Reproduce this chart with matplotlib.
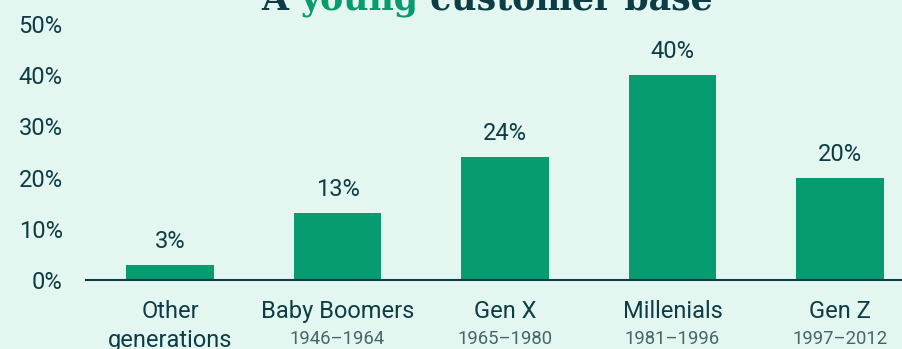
import matplotlib
matplotlib.use("Agg")
import matplotlib.pyplot as plt

# data
categories = ["Other\ngenerations", "Baby Boomers", "Gen X", "Millenials", "Gen Z"]
years = ["", "1946–1964", "1965–1980", "1981–1996", "1997–2012"]
shares = [3, 13, 24, 40, 20]
yticks = [0, 10, 20, 30, 40, 50]

BG = "#e4f6f0"
GREEN = "#069c6f"
DARK = "#0c3d46"
MUTED = "#46666b"

plt.rcParams["font.family"] = ["Roboto", "DejaVu Sans"]

fig = plt.figure(figsize=(9.02, 3.49), dpi=100)
fig.patch.set_facecolor(BG)

W, H = 902, 349
ax = fig.add_axes([86.25 / W, 69 / H, 837.5 / W, 256 / H])
ax.set_facecolor(BG)

x = list(range(len(categories)))
ax.bar(x, shares, width=0.525, color=GREEN, zorder=2)

# value labels above bars
for xi, v in zip(x, shares):
    ax.annotate(f"{v}%", (xi, v), xytext=(0, 17), textcoords="offset pixels",
                ha="center", va="baseline", fontsize=17, color=DARK)

ax.set_xlim(-0.5, 4.5)
ax.set_ylim(0, 50)
ax.set_yticks(yticks)
ax.set_yticklabels([f"{t}%" for t in yticks], fontsize=17, color=DARK)
ax.tick_params(axis="y", length=0, pad=17)
ax.set_xticks([])

for s in ["top", "right", "left"]:
    ax.spines[s].set_visible(False)
ax.spines["bottom"].set_color(DARK)
ax.spines["bottom"].set_linewidth(1.5)

# category names and birth years under the axis
for xi, name, yr in zip(x, categories, years):
    lines = name.split("\n")
    for k, line in enumerate(lines):
        ax.annotate(line, (xi, 0), xycoords=("data", "axes fraction"),
                    xytext=(0, -38 - 29 * k), textcoords="offset pixels",
                    ha="center", va="baseline", fontsize=17, color=DARK,
                    annotation_clip=False)
    if yr:
        ax.annotate(yr, (xi, 0), xycoords=("data", "axes fraction"),
                    xytext=(0, -64), textcoords="offset pixels",
                    ha="center", va="baseline", fontsize=13.3, color=MUTED,
                    annotation_clip=False)

# title, mixed colours
title_parts = [("A ", DARK), ("young", GREEN), (" customer base", DARK)]
fig.canvas.draw()
renderer = fig.canvas.get_renderer()
pieces = []
for txt, col in title_parts:
    t = fig.text(0, 1 - 10 / H, txt, fontsize=25, fontweight="bold", color=col,
                 family="DejaVu Serif", va="baseline", ha="left")
    pieces.append(t)
widths = [p.get_window_extent(renderer).width for p in pieces]
x0 = 487 - sum(widths) / 2
for p, w in zip(pieces, widths):
    p.set_x(x0 / W)
    x0 += w

fig.savefig("out.png", dpi=100, facecolor=BG)
